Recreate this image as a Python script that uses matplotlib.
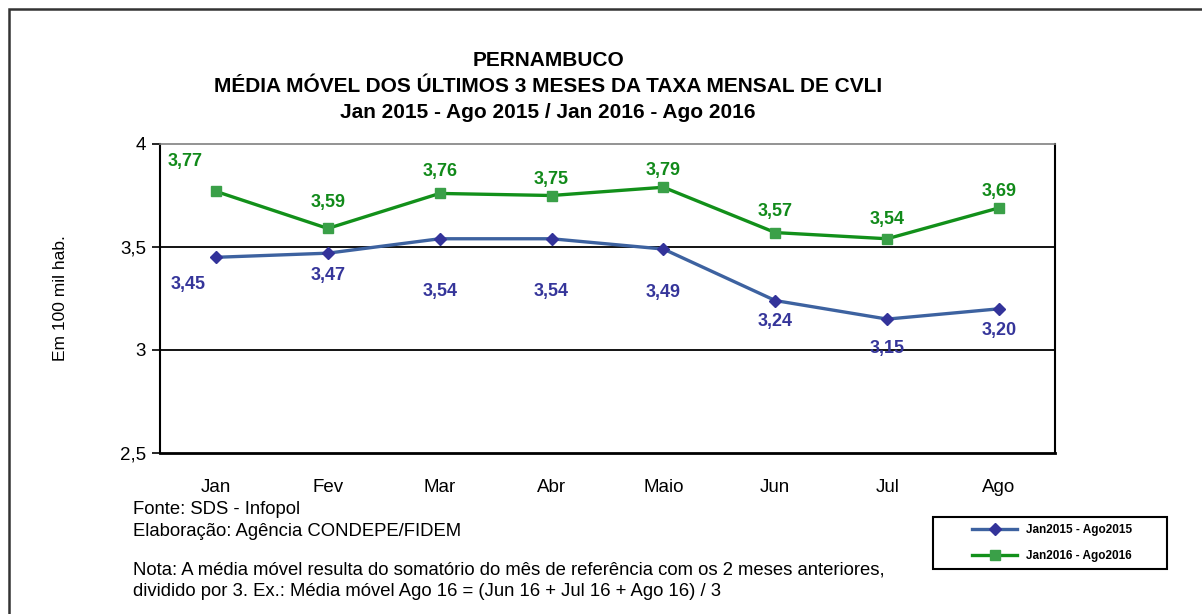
import numpy as np
import matplotlib
matplotlib.use('Agg')
import matplotlib.pyplot as plt
from matplotlib.patches import Rectangle

plt.rcParams['font.family'] = ['Liberation Sans', 'DejaVu Sans']

# dados
meses = ['Jan', 'Fev', 'Mar', 'Abr', 'Maio', 'Jun', 'Jul', 'Ago']
serie_2015 = [3.45, 3.47, 3.54, 3.54, 3.49, 3.24, 3.15, 3.20]
serie_2016 = [3.77, 3.59, 3.76, 3.75, 3.79, 3.57, 3.54, 3.69]
nome_2015 = 'Jan2015 - Ago2015'
nome_2016 = 'Jan2016 - Ago2016'
yticks = [2.5, 3.0, 3.5, 4.0]

# deslocamento dos rotulos (pixels)
off_2016 = [(-31, 30), (0, 26), (0, 22), (0, 16), (0, 17), (0, 21), (0, 19), (0, 16)]
off_2015 = [(-28, -27), (0, -22), (0, -53), (0, -53), (0, -43), (0, -21), (0, -29), (0, -22)]

W, H = 1202, 614
fig = plt.figure(figsize=(W / 100, H / 100), dpi=100)
ax = fig.add_axes([160 / W, 1 - 453 / H, (1055 - 160) / W, (453 - 144) / H])

x = np.arange(len(meses))
c15_line = '#3d62a0'
c15_mark = '#33339a'
c16_line = '#12901a'
c16_mark = '#3aa048'

ax.plot(x, serie_2015, color=c15_line, lw=2.4, marker='D', ms=6.5,
        mfc=c15_mark, mec=c15_mark, label=nome_2015, zorder=3)
ax.plot(x, serie_2016, color=c16_line, lw=2.4, marker='s', ms=6.5,
        mfc=c16_mark, mec=c16_mark, label=nome_2016, zorder=3)

for i, v in enumerate(serie_2016):
    ax.annotate(f'{v:.2f}'.replace('.', ','), (x[i], v), xytext=off_2016[i],
                textcoords='offset pixels', ha='center', va='center',
                color='#118a1a', fontsize=13, fontweight='bold')
for i, v in enumerate(serie_2015):
    ax.annotate(f'{v:.2f}'.replace('.', ','), (x[i], v), xytext=off_2015[i],
                textcoords='offset pixels', ha='center', va='center',
                color='#35359a', fontsize=13, fontweight='bold')

ax.set_xlim(-0.5, len(meses) - 0.5)
ax.set_ylim(2.5, 4.0)
ax.set_yticks(yticks)
ax.set_yticklabels([('%g' % t).replace('.', ',') for t in yticks], fontsize=13.5)
ax.set_xticks(x)
ax.set_xticklabels(meses, fontsize=13.5)
ax.tick_params(axis='x', length=0, pad=19)
ax.tick_params(axis='y', length=6, width=1.2, pad=4)
for t in [3.0, 3.5]:
    ax.axhline(t, color='black', lw=1.3, zorder=1)
ax.spines['top'].set_color('#808080')
ax.spines['top'].set_linewidth(1.2)
ax.spines['right'].set_linewidth(1.5)
ax.spines['left'].set_linewidth(1.5)
ax.spines['bottom'].set_linewidth(2)
ax.set_ylabel('Em 100 mil hab.', fontsize=12.5)
ax.yaxis.set_label_coords(-92 / 895, 0.5)

# titulo
tkw = dict(ha='center', va='center', fontsize=15, fontweight='bold')
fig.text(548 / W, 1 - 60 / H, 'PERNAMBUCO', **tkw)
fig.text(548 / W, 1 - 87 / H, 'MÉDIA MÓVEL DOS ÚLTIMOS 3 MESES DA TAXA MENSAL DE CVLI', **tkw)
fig.text(548 / W, 1 - 113 / H, 'Jan 2015 - Ago 2015 / Jan 2016 - Ago 2016', **tkw)

# notas
nkw = dict(ha='left', va='center', fontsize=13.3)
fig.text(133 / W, 1 - 510 / H, 'Fonte: SDS - Infopol', **nkw)
fig.text(133 / W, 1 - 532 / H, 'Elaboração: Agência CONDEPE/FIDEM', **nkw)
fig.text(133 / W, 1 - 570 / H,
         'Nota: A média móvel resulta do somatório do mês de referência com os 2 meses anteriores,', **nkw)
fig.text(133 / W, 1 - 592 / H,
         'dividido por 3. Ex.: Média móvel Ago 16 = (Jun 16 + Jul 16 + Ago 16) / 3', **nkw)

# legenda
leg = fig.legend(loc='center', bbox_to_anchor=(1052 / W, 1 - 543 / H),
                 prop={'weight': 'bold', 'size': 8.5},
                 frameon=False, borderpad=0, borderaxespad=0,
                 handlelength=3.8, handletextpad=0.7, labelspacing=1.2)
fig.patches.append(Rectangle((933 / W, 1 - 569 / H), (1167 - 933) / W, (569 - 517) / H,
                             transform=fig.transFigure, fill=False,
                             edgecolor='black', lw=1.5))

# moldura externa
fig.patches.append(Rectangle((9 / W, -0.05), 1.2, 1 - 9 / H + 0.05, transform=fig.transFigure,
                             fill=False, edgecolor='#333333', lw=1.8))

fig.savefig('out.png', dpi=100)
